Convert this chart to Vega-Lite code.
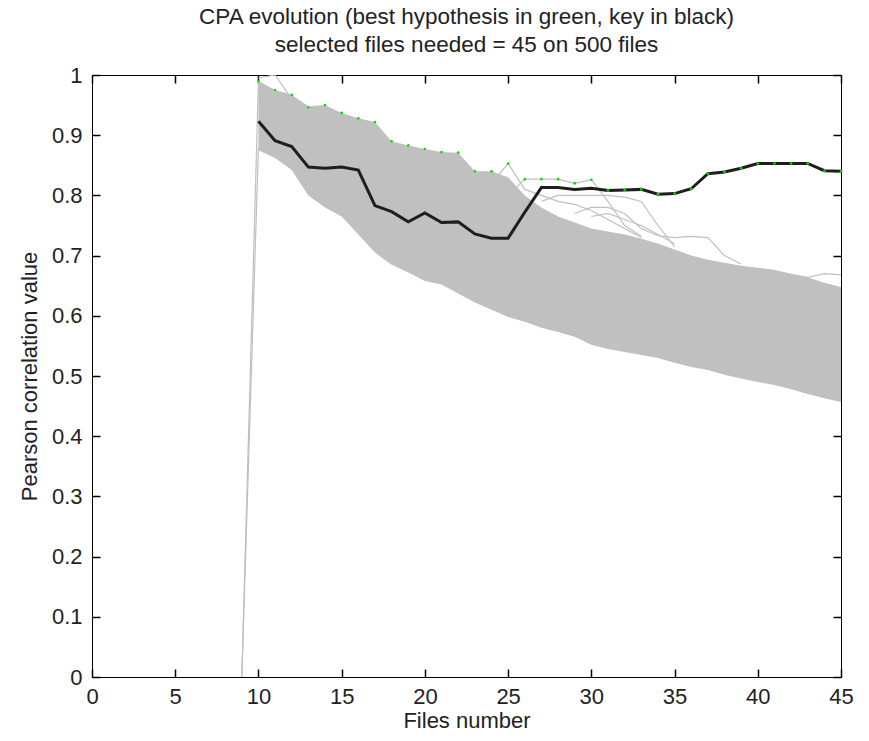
{
  "$schema": "https://vega.github.io/schema/vega-lite/v6.json",
  "width": 749,
  "height": 602,
  "autosize": {"type": "none"},
  "padding": {"left": 92, "top": 75, "right": 28, "bottom": 64},
  "background": "white",
  "config": {
    "view": {"stroke": "black", "strokeWidth": 1},
    "font": "Liberation Sans",
    "axis": {
      "labelFont": "Liberation Sans",
      "labelFontSize": 22,
      "labelColor": "#222",
      "titleFont": "Liberation Sans",
      "titleFontSize": 22,
      "titleFontWeight": "normal",
      "titleColor": "#222",
      "domainColor": "black",
      "tickColor": "black",
      "tickWidth": 1.5,
      "grid": false
    }
  },
  "title": {
    "text": ["CPA evolution (best hypothesis in green, key in black)", "selected files needed = 45 on 500 files"],
    "font": "Liberation Sans",
    "fontSize": 22.5,
    "fontWeight": "normal",
    "color": "#222",
    "lineHeight": 28,
    "offset": 8,
    "anchor": "middle"
  },
  "datasets": {
    "band": [
      {"x": 10, "lo": 0.875, "hi": 0.99},
      {"x": 11, "lo": 0.862, "hi": 0.975},
      {"x": 12, "lo": 0.842, "hi": 0.967},
      {"x": 13, "lo": 0.8, "hi": 0.948},
      {"x": 14, "lo": 0.78, "hi": 0.95},
      {"x": 15, "lo": 0.765, "hi": 0.937},
      {"x": 16, "lo": 0.735, "hi": 0.928},
      {"x": 17, "lo": 0.705, "hi": 0.922},
      {"x": 18, "lo": 0.685, "hi": 0.89},
      {"x": 19, "lo": 0.672, "hi": 0.883},
      {"x": 20, "lo": 0.658, "hi": 0.877},
      {"x": 21, "lo": 0.652, "hi": 0.872},
      {"x": 22, "lo": 0.637, "hi": 0.871},
      {"x": 23, "lo": 0.622, "hi": 0.84},
      {"x": 24, "lo": 0.61, "hi": 0.84},
      {"x": 25, "lo": 0.598, "hi": 0.83},
      {"x": 26, "lo": 0.59, "hi": 0.8},
      {"x": 27, "lo": 0.58, "hi": 0.78},
      {"x": 28, "lo": 0.573, "hi": 0.765},
      {"x": 29, "lo": 0.565, "hi": 0.755},
      {"x": 30, "lo": 0.552, "hi": 0.745},
      {"x": 31, "lo": 0.545, "hi": 0.74},
      {"x": 32, "lo": 0.54, "hi": 0.735},
      {"x": 33, "lo": 0.535, "hi": 0.728},
      {"x": 34, "lo": 0.53, "hi": 0.72},
      {"x": 35, "lo": 0.522, "hi": 0.71},
      {"x": 36, "lo": 0.515, "hi": 0.7},
      {"x": 37, "lo": 0.51, "hi": 0.693},
      {"x": 38, "lo": 0.502, "hi": 0.688},
      {"x": 39, "lo": 0.496, "hi": 0.683},
      {"x": 40, "lo": 0.49, "hi": 0.68},
      {"x": 41, "lo": 0.485, "hi": 0.676},
      {"x": 42, "lo": 0.478, "hi": 0.67},
      {"x": 43, "lo": 0.47, "hi": 0.664},
      {"x": 44, "lo": 0.463, "hi": 0.655},
      {"x": 45, "lo": 0.457, "hi": 0.648}
    ],
    "hyp": [
      {"id": "a", "x": 9, "y": 0}, {"id": "a", "x": 10, "y": 0.99},
      {"id": "b", "x": 9, "y": 0}, {"id": "b", "x": 10, "y": 0.88},
      {"id": "c", "x": 10, "y": 0.995}, {"id": "c", "x": 11, "y": 1.0}, {"id": "c", "x": 12, "y": 0.96},
      {"id": "d", "x": 24, "y": 0.82}, {"id": "d", "x": 25, "y": 0.853}, {"id": "d", "x": 26, "y": 0.81}, {"id": "d", "x": 27, "y": 0.8}, {"id": "d", "x": 28, "y": 0.79}, {"id": "d", "x": 29, "y": 0.785}, {"id": "d", "x": 30, "y": 0.775}, {"id": "d", "x": 31, "y": 0.76}, {"id": "d", "x": 32, "y": 0.745}, {"id": "d", "x": 33, "y": 0.73},
      {"id": "e", "x": 25, "y": 0.8}, {"id": "e", "x": 26, "y": 0.827}, {"id": "e", "x": 27, "y": 0.827}, {"id": "e", "x": 28, "y": 0.827}, {"id": "e", "x": 29, "y": 0.82}, {"id": "e", "x": 30, "y": 0.826}, {"id": "e", "x": 31, "y": 0.79}, {"id": "e", "x": 32, "y": 0.75}, {"id": "e", "x": 33, "y": 0.732},
      {"id": "f", "x": 27, "y": 0.79}, {"id": "f", "x": 28, "y": 0.8}, {"id": "f", "x": 29, "y": 0.8}, {"id": "f", "x": 30, "y": 0.8}, {"id": "f", "x": 31, "y": 0.8}, {"id": "f", "x": 32, "y": 0.797}, {"id": "f", "x": 33, "y": 0.79}, {"id": "f", "x": 34, "y": 0.75}, {"id": "f", "x": 35, "y": 0.715},
      {"id": "g", "x": 29, "y": 0.77}, {"id": "g", "x": 30, "y": 0.78}, {"id": "g", "x": 31, "y": 0.78}, {"id": "g", "x": 32, "y": 0.77}, {"id": "g", "x": 33, "y": 0.745}, {"id": "g", "x": 34, "y": 0.733}, {"id": "g", "x": 35, "y": 0.73}, {"id": "g", "x": 36, "y": 0.732}, {"id": "g", "x": 37, "y": 0.73}, {"id": "g", "x": 38, "y": 0.7}, {"id": "g", "x": 39, "y": 0.686},
      {"id": "h", "x": 30, "y": 0.765}, {"id": "h", "x": 31, "y": 0.77}, {"id": "h", "x": 32, "y": 0.76}, {"id": "h", "x": 33, "y": 0.75}, {"id": "h", "x": 34, "y": 0.735}, {"id": "h", "x": 35, "y": 0.72},
      {"id": "i", "x": 40, "y": 0.678}, {"id": "i", "x": 41, "y": 0.675}, {"id": "i", "x": 42, "y": 0.668}, {"id": "i", "x": 43, "y": 0.664}, {"id": "i", "x": 44, "y": 0.67}, {"id": "i", "x": 45, "y": 0.668}
    ],
    "key": [
      {"x": 10, "y": 0.923}, {"x": 11, "y": 0.891}, {"x": 12, "y": 0.881}, {"x": 13, "y": 0.847},
      {"x": 14, "y": 0.845}, {"x": 15, "y": 0.847}, {"x": 16, "y": 0.842}, {"x": 17, "y": 0.783},
      {"x": 18, "y": 0.773}, {"x": 19, "y": 0.756}, {"x": 20, "y": 0.771}, {"x": 21, "y": 0.755},
      {"x": 22, "y": 0.756}, {"x": 23, "y": 0.736}, {"x": 24, "y": 0.729}, {"x": 25, "y": 0.729},
      {"x": 26, "y": 0.772}, {"x": 27, "y": 0.813}, {"x": 28, "y": 0.813}, {"x": 29, "y": 0.81},
      {"x": 30, "y": 0.812}, {"x": 31, "y": 0.808}, {"x": 32, "y": 0.809}, {"x": 33, "y": 0.81},
      {"x": 34, "y": 0.802}, {"x": 35, "y": 0.803}, {"x": 36, "y": 0.811}, {"x": 37, "y": 0.836},
      {"x": 38, "y": 0.839}, {"x": 39, "y": 0.845}, {"x": 40, "y": 0.853}, {"x": 41, "y": 0.853},
      {"x": 42, "y": 0.853}, {"x": 43, "y": 0.853}, {"x": 44, "y": 0.841}, {"x": 45, "y": 0.84}
    ],
    "best": [
      {"x": 10, "y": 0.99}, {"x": 11, "y": 0.975}, {"x": 12, "y": 0.967}, {"x": 13, "y": 0.946},
      {"x": 14, "y": 0.95}, {"x": 15, "y": 0.937}, {"x": 16, "y": 0.928}, {"x": 17, "y": 0.922},
      {"x": 18, "y": 0.89}, {"x": 19, "y": 0.883}, {"x": 20, "y": 0.877}, {"x": 21, "y": 0.872},
      {"x": 22, "y": 0.871}, {"x": 23, "y": 0.84}, {"x": 24, "y": 0.84}, {"x": 25, "y": 0.853},
      {"x": 26, "y": 0.827}, {"x": 27, "y": 0.827}, {"x": 28, "y": 0.827}, {"x": 29, "y": 0.82},
      {"x": 30, "y": 0.826}, {"x": 31, "y": 0.808}, {"x": 32, "y": 0.809}, {"x": 33, "y": 0.81},
      {"x": 34, "y": 0.802}, {"x": 35, "y": 0.803}, {"x": 36, "y": 0.811}, {"x": 37, "y": 0.836},
      {"x": 38, "y": 0.839}, {"x": 39, "y": 0.845}, {"x": 40, "y": 0.853}, {"x": 41, "y": 0.853},
      {"x": 42, "y": 0.853}, {"x": 43, "y": 0.853}, {"x": 44, "y": 0.841}, {"x": 45, "y": 0.84}
    ]
  },
  "resolve": {"axis": {"x": "independent", "y": "independent"}},
  "layer": [
    {
      "data": {"name": "band"},
      "mark": {"type": "area", "color": "#c0c0c0", "clip": true},
      "encoding": {
        "x": {"field": "x", "type": "quantitative", "scale": {"domain": [0, 45], "nice": false},
              "axis": {"orient": "bottom", "values": [0,5,10,15,20,25,30,35,40,45], "title": "Files number",
                       "tickSize": -8, "labelPadding": 17, "titlePadding": 3, "labelFlush": false}},
        "y": {"field": "lo", "type": "quantitative", "scale": {"domain": [0, 1], "nice": false},
              "axis": {"orient": "left", "values": [0,0.1,0.2,0.3,0.4,0.5,0.6,0.7,0.8,0.9,1], "format": "~g",
                       "title": "Pearson correlation value", "tickSize": -8, "labelPadding": 18, "titlePadding": 10, "labelFlush": false}},
        "y2": {"field": "hi"}
      }
    },
    {
      "data": {"name": "hyp"},
      "mark": {"type": "line", "color": "#c0c0c0", "strokeWidth": 1.2, "clip": true},
      "encoding": {
        "x": {"field": "x", "type": "quantitative", "axis": null},
        "y": {"field": "y", "type": "quantitative", "axis": null},
        "detail": {"field": "id"}
      }
    },
    {
      "data": {"name": "key"},
      "mark": {"type": "line", "color": "#1e1e1e", "strokeWidth": 3, "clip": true},
      "encoding": {
        "x": {"field": "x", "type": "quantitative",
              "axis": {"orient": "top", "values": [0,5,10,15,20,25,30,35,40,45], "labels": false, "title": null, "tickSize": -8, "ticks": true}},
        "y": {"field": "y", "type": "quantitative",
              "axis": {"orient": "right", "values": [0,0.1,0.2,0.3,0.4,0.5,0.6,0.7,0.8,0.9,1], "labels": false, "title": null, "tickSize": -8, "ticks": true}}
      }
    },
    {
      "data": {"name": "best"},
      "mark": {"type": "point", "filled": true, "color": "#00e000", "size": 7, "opacity": 1},
      "encoding": {
        "x": {"field": "x", "type": "quantitative", "axis": null},
        "y": {"field": "y", "type": "quantitative", "axis": null}
      }
    }
  ]
}
